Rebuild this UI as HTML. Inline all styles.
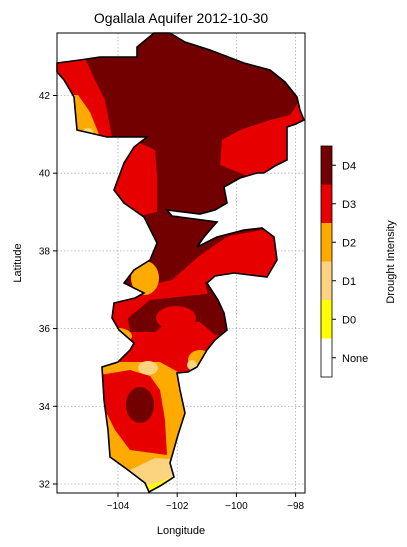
<!DOCTYPE html>
<html><head><meta charset="utf-8"><style>
body{margin:0;background:#fff}
svg{display:block;font-family:"Liberation Sans","DejaVu Sans",sans-serif}
</style></head><body>
<svg id="c" width="407" height="547" viewBox="0 0 407 547">
<defs><clipPath id="clip"><path id="clipPath" d=""/></clipPath></defs>
<text x="181" y="23" font-size="14" text-anchor="middle">Ogallala Aquifer 2012-10-30</text>
<g id="grid"></g>
<g id="map" clip-path="url(#clip)"></g>
<path id="outline" fill="none" stroke="#000" stroke-width="1.6"/>
<rect x="57" y="33" width="248" height="460" fill="none" stroke="#000" stroke-width="1"/>
<g id="ticks" font-size="10"></g>
<text x="181" y="534" font-size="11" text-anchor="middle">Longitude</text>
<text x="21" y="263" font-size="11" text-anchor="middle" transform="rotate(-90 21 263)">Latitude</text>
<g id="cbar"></g>
<text x="394" y="262" font-size="11" text-anchor="middle" transform="rotate(-90 394 262)">Drought Intensity</text>
</svg>
<script>
const lonTicks=[-104,-102,-100,-98];
const latTicks=[32,34,36,38,40,42];
const categories=["None","D0","D1","D2","D3","D4"];
const catColors=["#ffffff","#ffff00","#fcd37f","#ffaa00","#e60000","#730000"];
function X(lon){return 118+(lon+104)*29.6;}
function Y(lat){return 484-(lat-32)*38.85;}
const NS="http://www.w3.org/2000/svg";
function mk(tag,attrs,parent){const e=document.createElementNS(NS,tag);for(const k in attrs)e.setAttribute(k,attrs[k]);parent.appendChild(e);return e;}
const gridG=document.getElementById('grid'),ticksG=document.getElementById('ticks');
lonTicks.forEach(v=>{const x=X(v);
 const l=mk('line',{x1:x,x2:x,y1:33,y2:493,stroke:'#b0b0b0','stroke-dasharray':'1.5,2','stroke-width':0.8},gridG);
 
 
 mk('line',{x1:x,x2:x,y1:493,y2:497,stroke:'#000'},ticksG);
 const t=mk('text',{x:x,y:509,'text-anchor':'middle'},ticksG);t.textContent='\u2212'+Math.abs(v);
 
 });
latTicks.forEach(v=>{const y=Y(v);
 const l=mk('line',{x1:57,x2:305,y1:y,y2:y,stroke:'#b0b0b0','stroke-dasharray':'1.5,2','stroke-width':0.8},gridG);
 
 
 mk('line',{x1:53,x2:57,y1:y,y2:y,stroke:'#000'},ticksG);
 const t=mk('text',{x:50,y:y+3.5,'text-anchor':'end'},ticksG);t.textContent=v;
 
 });
const outlineD="M57,63 L80,60 L100,57 L137,57 L137,47 L154,33 L170,33 L185,42 L210,50 L244,63 L270,70 L285,82 L297,97 L300,110 L304,120 L296,124 L287,127 L287,160 L275,166 L264,173 L257,173 L240,178 L224,187 L227,203 L215,210 L200,214 L167,210 L172,216 L217,222 L210,230 L204,237 L197,247 L217,237 L244,230 L262,228 L274,237 L277,260 L267,277 L250,275 L234,273 L215,276 L207,283 L218,300 L224,313 L227,330 L215,340 L207,350 L197,367 L188,372 L177,373 L180,390 L185,413 L178,435 L170,463 L174,477 L160,486 L149,492 L145,483 L128,470 L110,457 L108,430 L104,400 L102,367 L118,362 L130,350 L134,343 L119,330 L112,318 L114,303 L135,298 L144,293 L124,283 L134,270 L150,260 L157,243 L144,217 L124,203 L114,190 L124,163 L134,147 L147,137 L107,137 L77,130 L74,97 L64,80 L57,72 Z";
document.getElementById('clipPath').setAttribute('d',outlineD);
document.getElementById('outline').setAttribute('d',outlineD);
const mapG=document.getElementById('map');
function poly(pts,fill,name){const p=mk('polygon',{points:pts,fill:fill},mapG);
 
 }
function ell(cx,cy,rx,ry,fill,name){const p=mk('ellipse',{cx,cy,rx,ry,fill},mapG);
 
 }
const D4=catColors[5],D3=catColors[4],D2=catColors[3],D1=catColors[2],D0=catColors[1];
poly("50,30 310,30 310,500 50,500",D4,'d4-region');
poly("57,58 85,58 95,80 105,100 112,137 57,137",D3,'d3-northwest');
poly("57,95 78,95 90,112 100,137 57,137",D2,'d2-northwest');
ell(88,132,5,4,D1,'d1-northwest');
poly("300,100 290,115 270,120 240,130 222,140 220,165 245,175 270,175 305,170 305,100",D3,'d3-east');
poly("110,145 140,143 155,150 157,175 157,212 140,216 110,210",D3,'d3-west');
poly("150,285 172,280 198,257 228,236 290,225 290,290 235,290 215,298 170,298 150,312 110,312 110,285",D3,'d3-middle-band');
ell(145,278,14,17,D2,'d2-west-blob');
poly("105,300 230,300 232,360 190,372 160,372 105,362",D3,'d3-lower');
poly("128,318 150,300 215,293 232,300 232,335 215,335 200,322 170,320 155,332 130,332",D4,'d4-lower-band');
ell(176,318,20,12,D3,'d3-lower-blob');
poly("205,282 245,282 245,332 222,332 210,305",D4,'d4-east-patch');
ell(118,336,14,8,D2,'d2-lower-west');
ell(200,360,12,10,D2,'d2-lower-east');
ell(192,365,5,5,D1,'d1-lower-east');
poly("95,362 160,362 178,372 200,372 200,495 95,495",D2,'d2-south');
ell(148,368,10,7,D1,'d1-south-top');
poly("100,375 130,370 150,376 160,390 165,420 167,455 130,450 115,430 100,400",D3,'d3-south');
ell(140,405,14,18,D4,'d4-south');
poly("130,470 155,458 182,460 182,495 130,495",D1,'d1-south');
poly("140,486 160,482 180,474 180,495 140,495",D0,'d0-south');
const cb=document.getElementById('cbar');const cbTop=146,cbBot=377,cbH=(cbBot-cbTop)/categories.length;
categories.forEach((c,i)=>{const y=cbBot-(i+1)*cbH;
 const r=mk('rect',{x:321,y:y,width:11,height:cbH,fill:catColors[i]},cb);
 
 
 mk('line',{x1:332,x2:336,y1:y+cbH/2,y2:y+cbH/2,stroke:'#000'},cb);
 const t=mk('text',{x:342,y:y+cbH/2+4,'font-size':11},cb);t.textContent=c;
 
 });
mk('rect',{x:321,y:cbTop,width:11,height:cbBot-cbTop,fill:'none',stroke:'#000','stroke-width':0.8},cb);
</script>
</body></html>
